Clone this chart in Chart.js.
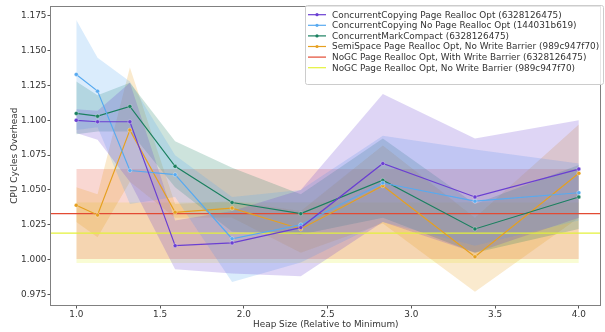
<!DOCTYPE html>
<html>
<head>
<meta charset='utf-8'>
<title>CPU Cycles Overhead</title>
<script src="https://cdn.jsdelivr.net/npm/chart.js@4"></script>
<style>
  html, body { margin: 0; padding: 0; background: #fff; }
  #wrap { width: 605px; height: 332px; position: relative; }
</style>
<script>
// heap sizes (x) and tick labels
const heapSizes = [1.0, 1.127, 1.32, 1.59, 1.93, 2.34, 2.83, 3.38, 4.0];
const xTicks = [1.0, 1.5, 2.0, 2.5, 3.0, 3.5, 4.0];
const yTicks = [0.975, 1.000, 1.025, 1.050, 1.075, 1.100, 1.125, 1.150, 1.175];

// mean overhead per series
const ccPageRealloc   = [1.100, 1.099, 1.099, 1.010, 1.012, 1.023, 1.069, 1.045, 1.065];
const ccNoPageRealloc = [1.133, 1.121, 1.064, 1.061, 1.015, 1.025, 1.055, 1.042, 1.048];
const cmc             = [1.105, 1.103, 1.110, 1.067, 1.041, 1.033, 1.057, 1.022, 1.045];
const semiSpace       = [1.039, 1.032, 1.093, 1.034, 1.037, 1.022, 1.053, 1.002, 1.062];

// confidence bands (low / high)
const ccPageReallocLo   = [1.091, 1.086, 1.056, 0.993, 0.990, 0.988, 1.027, 1.005, 1.030];
const ccPageReallocHi   = [1.108, 1.107, 1.127, 1.028, 1.035, 1.050, 1.119, 1.087, 1.100];
const ccNoPageReallocLo = [1.093, 1.095, 1.040, 1.045, 0.984, 0.998, 1.027, 1.010, 1.028];
const ccNoPageReallocHi = [1.172, 1.145, 1.128, 1.075, 1.045, 1.050, 1.089, 1.079, 1.069];
const cmcLo             = [1.090, 1.092, 1.092, 1.052, 1.020, 1.018, 1.030, 1.005, 1.022];
const cmcHi             = [1.128, 1.118, 1.127, 1.085, 1.066, 1.047, 1.087, 1.040, 1.068];
const semiSpaceLo       = [1.027, 1.016, 1.056, 1.030, 1.030, 1.005, 1.026, 0.977, 1.030];
const semiSpaceHi       = [1.052, 1.047, 1.138, 1.040, 1.042, 1.035, 1.082, 1.030, 1.097];

// NoGC: single mean with band
const noGcBarrier   = 1.033, noGcBarrierLo = 1.0005, noGcBarrierHi = 1.065;
const noGcNoBarrier = 1.019, noGcNoBarrierLo = 0.9975, noGcNoBarrierHi = 1.041;

const labels = [
  'ConcurrentCopying Page Realloc Opt (6328126475)',
  'ConcurrentCopying No Page Realloc Opt (144031b619)',
  'ConcurrentMarkCompact (6328126475)',
  'SemiSpace Page Realloc Opt, No Write Barrier (989c947f70)',
  'NoGC Page Realloc Opt, With Write Barrier (6328126475)',
  'NoGC Page Realloc Opt, No Write Barrier (989c947f70)'
];
const colors = ['#6a3fd2', '#58aaf0', '#1b8060', '#e6a020', '#e34a33', '#e4f23a'];
const bandAlpha = 0.22;

const X_MIN = 0.849, X_MAX = 4.13;
const FONT = 'DejaVu Sans';
const FS = 8.9;

function rgba(hex, a) {
  const n = parseInt(hex.slice(1), 16);
  return 'rgba(' + (n >> 16) + ',' + ((n >> 8) & 255) + ',' + (n & 255) + ',' + a + ')';
}
function pts(xs, ys) { return xs.map((x, i) => ({ x: x, y: ys[i] })); }

function buildDatasets() {
  const ds = [];
  const series = [
    [ccPageRealloc, ccPageReallocLo, ccPageReallocHi],
    [ccNoPageRealloc, ccNoPageReallocLo, ccNoPageReallocHi],
    [cmc, cmcLo, cmcHi],
    [semiSpace, semiSpaceLo, semiSpaceHi]
  ];
  series.forEach((s, k) => {
    ds.push({ data: pts(heapSizes, s[1]), borderWidth: 0, pointRadius: 0, fill: false, order: 2 });
    ds.push({ data: pts(heapSizes, s[2]), borderWidth: 0, pointRadius: 0, fill: '-1',
      backgroundColor: rgba(colors[k], bandAlpha), order: 2 });
    ds.push({ label: labels[k], data: pts(heapSizes, s[0]), borderColor: colors[k], backgroundColor: colors[k],
      borderWidth: 1.2, pointRadius: 2, pointBorderWidth: 0.4, pointBorderColor: 'rgba(255,255,255,0.8)',
      pointBackgroundColor: colors[k], fill: false, order: 0, marker: true });
  });
  const flat = [[noGcBarrier, noGcBarrierLo, noGcBarrierHi], [noGcNoBarrier, noGcNoBarrierLo, noGcNoBarrierHi]];
  flat.forEach((f, j) => {
    const k = 4 + j;
    const span = [heapSizes[0], heapSizes[heapSizes.length - 1]];
    ds.push({ data: pts(span, [f[1], f[1]]), borderWidth: 0, pointRadius: 0, fill: false, order: 2 });
    ds.push({ data: pts(span, [f[2], f[2]]), borderWidth: 0, pointRadius: 0, fill: '-1',
      backgroundColor: rgba(colors[k], bandAlpha), order: 2 });
    ds.push({ label: labels[k], data: pts([X_MIN, X_MAX], [f[0], f[0]]), borderColor: colors[k],
      borderWidth: 1.2, pointRadius: 0, fill: false, order: 0 });
  });
  return ds;
}

// frame around plot area + legend box
const framePlugin = {
  id: 'frame',
  afterDraw(chart) {
    const a = chart.chartArea, c = chart.ctx;
    c.save();
    c.strokeStyle = '#808080';
    c.lineWidth = 1;
    c.strokeRect(Math.round(a.left) - 0.5, Math.round(a.top) + 0.5, Math.round(a.right - a.left), Math.round(a.bottom - a.top));

    // legend
    const items = chart.data.datasets.filter(d => d.label);
    const rowH = 10.6, bx = 305, by = 5, bw = 298, bh = 79;
    c.fillStyle = 'rgba(255,255,255,0.8)';
    c.strokeStyle = '#cccccc';
    c.beginPath();
    c.roundRect(bx + 0.5, by + 0.5, bw, bh, 2);
    c.fill();
    c.stroke();
    c.font = FS + 'px ' + FONT;
    c.textBaseline = 'middle';
    items.forEach((d, i) => {
      const y = by + 9.7 + i * rowH;
      c.strokeStyle = d.borderColor;
      c.lineWidth = 1.2;
      c.beginPath();
      c.moveTo(bx + 3, y);
      c.lineTo(bx + 21, y);
      c.stroke();
      if (d.marker) {
        c.fillStyle = d.borderColor;
        c.beginPath();
        c.arc(bx + 12, y, 1.6, 0, Math.PI * 2);
        c.fill();
      }
      c.fillStyle = '#333333';
      c.fillText(d.label, bx + 27, y + 0.5);
    });
    c.restore();
  }
};

function dibujar() {
  const ctx = document.getElementById('grafico').getContext('2d');
  new Chart(ctx, {
    type: 'line',
    data: { datasets: buildDatasets() },
    plugins: [framePlugin],
    options: {
      responsive: false,
      animation: false,
      events: [],
      layout: { padding: { top: 2, right: 1, left: 9, bottom: 0 } },
      plugins: { legend: { display: false }, tooltip: { enabled: false } },
      elements: { line: { tension: 0 } },
      scales: {
        x: {
          type: 'linear', min: X_MIN, max: X_MAX,
          afterBuildTicks: s => { s.ticks = xTicks.map(v => ({ value: v })); },
          afterFit: s => { s.height = 27; },
          border: { display: false },
          grid: { drawOnChartArea: false, drawTicks: true, tickLength: 3.5, color: '#555555' },
          ticks: { font: { family: FONT, size: FS }, color: '#333333', padding: 1, maxRotation: 0,
            callback: v => v.toFixed(1) },
          title: { display: true, text: 'Heap Size (Relative to Minimum)', font: { family: FONT, size: FS },
            color: '#333333', padding: { top: 0, bottom: 2 } }
        },
        y: {
          min: 0.9674, max: 1.1819,
          afterBuildTicks: s => { s.ticks = yTicks.map(v => ({ value: v })); },
          afterFit: s => { s.width = 42; },
          border: { display: false },
          grid: { drawOnChartArea: false, drawTicks: true, tickLength: 3.5, color: '#555555' },
          ticks: { font: { family: FONT, size: FS }, color: '#333333', padding: 1,
            callback: v => v.toFixed(3) },
          title: { display: true, text: 'CPU Cycles Overhead', font: { family: FONT, size: FS },
            color: '#333333', padding: { top: 0, bottom: 0 } }
        }
      }
    }
  });
}
onload = dibujar;
</script>
</head>
<body>
<div id="wrap"><canvas id="grafico" width="605" height="332"></canvas></div>
</body>
</html>
